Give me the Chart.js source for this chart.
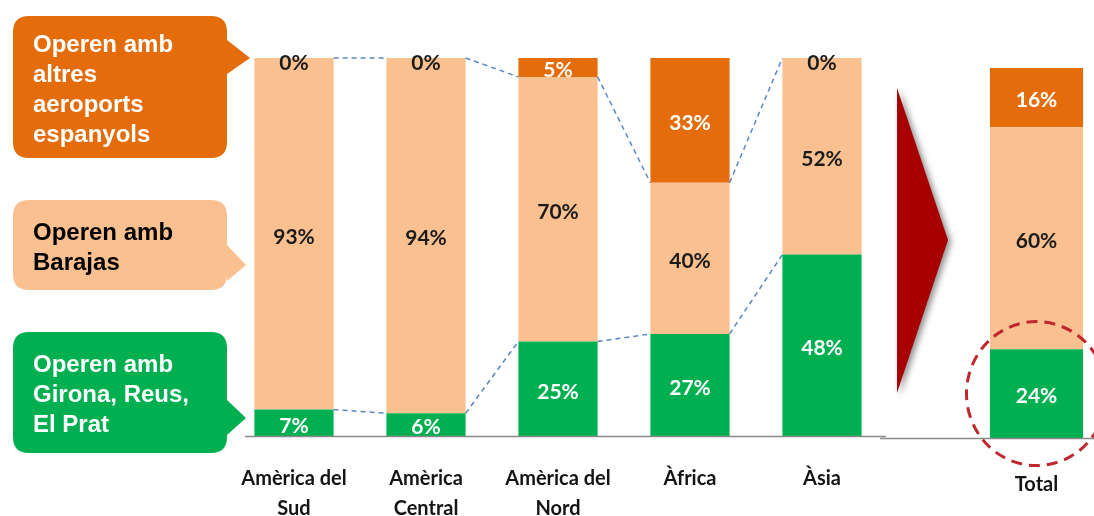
<!DOCTYPE html>
<html>
<head>
<meta charset="utf-8">
<script src="https://cdn.jsdelivr.net/npm/chart.js@4.4.0/dist/chart.umd.min.js"></script>
<style>
html, body { margin: 0; padding: 0; background: #fff; }
#wrap { position: relative; width: 1094px; height: 516px; overflow: hidden; }
#wrap canvas { position: absolute; left: 0; top: 0; }
</style>
</head>
<body>
<div id="wrap">
  <canvas id="mainChart" width="1094" height="516"></canvas>
  <canvas id="totalChart" width="1094" height="516"></canvas>
</div>
<script>
// Regions and shares (%)
const regions = [['Amèrica del', 'Sud'], ['Amèrica', 'Central'], ['Amèrica del', 'Nord'], ['Àfrica'], ['Àsia']];
const gironaReusPrat = [7, 6, 25, 27, 48];
const barajas = [93, 94, 70, 40, 52];
const altresAeroports = [0, 0, 5, 33, 0];

const totalCategory = ['Total'];
const totalGirona = [24];
const totalBarajas = [60];
const totalAltres = [16];

const seriesNames = ['Operen amb Girona, Reus, El Prat', 'Operen amb Barajas', 'Operen amb altres aeroports espanyols'];

const GREEN = '#00B050';
const PEACH = '#FAC090';
const ORANGE = '#E46C0A';

// % labels centred in each segment, 0% sits on top of the bar
const segmentLabels = {
    id: 'segmentLabels',
    afterDatasetsDraw(chart) {
        const ctx = chart.ctx;
        ctx.save();
        ctx.font = 'bold 21px Lato';
        ctx.textAlign = 'center';
        ctx.textBaseline = 'middle';
        chart.data.datasets.forEach((ds, i) => {
            const meta = chart.getDatasetMeta(i);
            meta.data.forEach((bar, j) => {
                const v = ds.data[j];
                let y = (bar.y + bar.base) / 2 + 3;
                let color = ds.labelColor;
                if (v === 0) {
                    y = bar.y + 5;
                    color = '#1a1a1a';
                }
                ctx.fillStyle = color;
                ctx.fillText(v + '%', bar.x, y);
            });
        });
        ctx.restore();
    }
};

// dashed lines joining segment boundaries of neighbouring bars
const connectors = {
    id: 'connectors',
    afterDatasetsDraw(chart) {
        const ctx = chart.ctx;
        ctx.save();
        ctx.strokeStyle = '#5A86C6';
        ctx.lineWidth = 1.5;
        ctx.setLineDash([5, 4]);
        [0, 1].forEach(d => {
            const bars = chart.getDatasetMeta(d).data;
            for (let i = 0; i < bars.length - 1; i++) {
                const a = bars[i], b = bars[i + 1];
                ctx.beginPath();
                ctx.moveTo(a.x + a.width / 2, a.y);
                ctx.lineTo(b.x - b.width / 2, b.y);
                ctx.stroke();
            }
        });
        ctx.restore();
    }
};

function callout(ctx, x, y, w, h, tip, base1, base2, fill, textColor, lines) {
    const r = 16;
    ctx.save();
    ctx.fillStyle = fill;
    ctx.beginPath();
    ctx.moveTo(x + r, y);
    ctx.lineTo(x + w - r, y);
    ctx.quadraticCurveTo(x + w, y, x + w, y + r);
    ctx.lineTo(x + w, base1);
    ctx.lineTo(tip[0], tip[1]);
    ctx.lineTo(x + w, base2);
    ctx.lineTo(x + w, y + h - r);
    ctx.quadraticCurveTo(x + w, y + h, x + w - r, y + h);
    ctx.lineTo(x + r, y + h);
    ctx.quadraticCurveTo(x, y + h, x, y + h - r);
    ctx.lineTo(x, y + r);
    ctx.quadraticCurveTo(x, y, x + r, y);
    ctx.closePath();
    ctx.fill();
    ctx.fillStyle = textColor;
    ctx.font = 'bold 24px "Liberation Sans", Arial, sans-serif';
    ctx.textBaseline = 'middle';
    ctx.textAlign = 'left';
    const lh = 30;
    const startY = y + h / 2 - (lines.length - 1) * lh / 2 + 3;
    lines.forEach((t, k) => ctx.fillText(t, x + 20, startY + k * lh));
    ctx.restore();
}

const decorations = {
    id: 'decorations',
    afterDraw(chart) {
        const ctx = chart.ctx;
        const area = chart.chartArea;
        ctx.save();
        // base line
        ctx.strokeStyle = '#8a8a8a';
        ctx.lineWidth = 1.5;
        ctx.beginPath();
        ctx.moveTo(area.left + 17, area.bottom + 0.5);
        ctx.lineTo(area.right - 2, area.bottom + 0.5);
        ctx.stroke();

        // legend callouts
        callout(ctx, 13, 16, 214, 142, [250, 58], 40, 74, ORANGE, '#ffffff',
            ['Operen amb', 'altres', 'aeroports', 'espanyols']);
        callout(ctx, 13, 200, 214, 90, [246, 265], 245, 281, PEACH, '#000000',
            ['Operen amb', 'Barajas']);
        callout(ctx, 13, 332, 214, 121, [246, 418], 400, 435, GREEN, '#ffffff',
            ['Operen amb', 'Girona, Reus,', 'El Prat']);

        // big arrow towards the total
        ctx.shadowColor = 'rgba(0,0,0,0.45)';
        ctx.shadowBlur = 6;
        ctx.shadowOffsetX = 3;
        ctx.shadowOffsetY = 2;
        ctx.fillStyle = '#A80000';
        ctx.beginPath();
        ctx.moveTo(897, 88);
        ctx.lineTo(948, 240);
        ctx.lineTo(897, 393);
        ctx.closePath();
        ctx.fill();
        ctx.restore();
    }
};

const totalDecorations = {
    id: 'totalDecorations',
    afterDraw(chart) {
        const ctx = chart.ctx;
        const area = chart.chartArea;
        ctx.save();
        ctx.strokeStyle = '#8a8a8a';
        ctx.lineWidth = 1.5;
        ctx.beginPath();
        ctx.moveTo(880, area.bottom + 0.5);
        ctx.lineTo(1094, area.bottom + 0.5);
        ctx.stroke();

        // dashed circle round the green segment
        const g = chart.getDatasetMeta(0).data[0];
        ctx.strokeStyle = '#C0262D';
        ctx.lineWidth = 3;
        ctx.setLineDash([11, 7]);
        ctx.beginPath();
        ctx.ellipse(g.x, (g.y + g.base) / 2, 70, 72, 0, 0, Math.PI * 2);
        ctx.stroke();
        ctx.restore();
    }
};

function makeDatasets(green, peach, orange, pct) {
    return [
        { label: seriesNames[0], data: green, backgroundColor: GREEN, labelColor: '#ffffff', barPercentage: pct, categoryPercentage: 1 },
        { label: seriesNames[1], data: peach, backgroundColor: PEACH, labelColor: '#1a1a1a', barPercentage: pct, categoryPercentage: 1 },
        { label: seriesNames[2], data: orange, backgroundColor: ORANGE, labelColor: '#ffffff', barPercentage: pct, categoryPercentage: 1 }
    ];
}

function baseOptions(padding, axisHeight) {
    return {
        responsive: false,
        animation: false,
        layout: { padding: padding },
        plugins: { legend: { display: false }, tooltip: { enabled: false } },
        scales: {
            x: {
                stacked: true,
                grid: { display: false },
                border: { display: false },
                ticks: {
                    color: '#141414',
                    font: { family: 'Lato', size: 20, weight: 'bold', lineHeight: 1.5 },
                    padding: 20,
                    maxRotation: 0
                },
                afterFit(scale) { scale.height = axisHeight; }
            },
            y: {
                stacked: true,
                display: false,
                min: 0,
                max: 100
            }
        }
    };
}

new Chart(document.getElementById('mainChart'), {
    type: 'bar',
    data: { labels: regions, datasets: makeDatasets(gironaReusPrat, barajas, altresAeroports, 0.6) },
    options: baseOptions({ left: 228, right: 206, top: 58, bottom: 0 }, 80),
    plugins: [connectors, segmentLabels, decorations]
});

const totalOpts = baseOptions({ left: 979, right: 0, top: 68, bottom: 0 }, 78);
totalOpts.scales.x.ticks.padding = 24;
new Chart(document.getElementById('totalChart'), {
    type: 'bar',
    data: { labels: totalCategory, datasets: makeDatasets(totalGirona, totalBarajas, totalAltres, 0.81) },
    options: totalOpts,
    plugins: [segmentLabels, totalDecorations]
});
</script>
</body>
</html>
